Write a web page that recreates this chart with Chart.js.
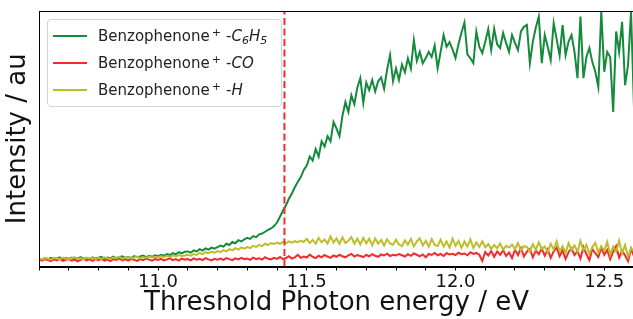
<!DOCTYPE html>
<html>
<head>
<meta charset="utf-8">
<script src="https://cdn.jsdelivr.net/npm/chart.js@4/dist/chart.umd.min.js"></script>
<style>
  body { margin: 0; background: #fff; }
  #wrap { position: relative; width: 633px; height: 319px; overflow: hidden; }
  #legend {
    position: absolute; left: 47px; top: 19px; width: 233px; height: 86px;
    border: 1px solid #d4d4d4; border-radius: 4px; background: rgba(255,255,255,0.85);
    font-family: "DejaVu Sans", sans-serif; font-size: 15px; color: #222;
  }
  .row { position: absolute; left: 0; height: 20px; line-height: 20px; white-space: nowrap; }
  .swatch { position: absolute; left: 5px; top: 9px; width: 34px; height: 2px; }
  .label { position: absolute; left: 50px; top: 0; }
  .label sup { font-size: 11px; vertical-align: 5px; line-height: 0; margin-left: 2px; margin-right: 5px; }
  .label sub { font-size: 11px; vertical-align: -3px; line-height: 0; font-style: italic; }
</style>
</head>
<body>
<div id="wrap">
  <canvas id="spectrum" width="640" height="319"></canvas>
  <div id="legend"></div>
</div>
<script>
// threshold photon energy grid: 10.60 ... 12.60 eV in 0.01 eV steps
var startEnergy = 10.6;
var energyStep = 0.01;

// Benzophenone+ -C6H5 channel
var c6h5 = [
  3.0, 2.6, 3.2, 2.8, 3.4, 2.9, 3.1, 3.6, 2.7, 3.3,
  3.0, 3.5, 2.8, 3.2, 3.7, 3.0, 3.3, 2.9, 3.6, 3.1,
  3.4, 3.8, 3.0, 3.5, 3.2, 3.9, 3.3, 3.6, 4.0, 3.4,
  3.7, 3.3, 4.1, 3.6, 3.9, 4.3, 3.7, 4.2, 3.8, 4.4,
  4.0, 4.6, 4.2, 4.9, 4.5, 5.2, 4.8, 5.6, 5.1, 5.8,
  5.9, 5.4, 6.3, 5.9, 6.8, 6.2, 7.1, 6.6, 7.4, 7.0,
  7.6, 8.2, 7.8, 8.9, 8.4, 9.6, 9.1, 10.3, 9.8, 10.6,
  11.2, 10.8, 11.9, 11.5, 12.6, 12.9, 13.6, 14.3, 14.9, 15.8,
  17.2, 19.5, 21.8, 24.0, 26.5, 28.6, 31.0, 33.2, 35.0, 37.8,
  39.5, 43.0, 41.5, 46.0, 43.0, 49.0, 47.0, 51.0, 49.0, 56.6,
  54.0, 51.0, 59.0, 64.4, 60.5, 67.0, 63.5, 70.0, 73.7, 64.0,
  72.0, 69.0, 73.0, 68.5, 72.5, 74.0, 69.5, 77.0, 82.7, 72.5,
  77.5, 73.0, 79.0, 76.0, 81.5, 77.5, 88.6, 80.5, 84.0, 79.5,
  81.6, 84.0, 82.0, 86.5, 77.6, 84.0, 90.6, 86.0, 87.8, 85.0,
  81.6, 87.0, 91.5, 95.5, 83.0, 81.5, 79.6, 91.9, 86.0, 83.5,
  88.0, 92.9, 84.7, 93.0, 87.0, 85.5, 91.4, 87.5, 84.0, 90.6,
  87.5, 84.7, 92.0, 93.8, 94.5, 79.6, 88.0, 93.5, 97.8, 79.6,
  90.6, 86.0, 80.8, 95.3, 89.0, 82.5, 94.5, 82.7, 88.0, 90.6,
  84.0, 73.7, 97.8, 73.7, 82.0, 85.5, 80.0, 76.2, 70.3, 99.7,
  76.2, 84.0, 82.0, 60.5, 92.0, 84.0, 95.8, 71.0, 78.8, 99.7, 62.0
];

// Benzophenone+ -CO channel
var co = [
  2.7, 2.3, 2.9, 2.5, 2.1, 2.8, 2.4, 3.0, 2.2, 2.6,
  2.9, 2.3, 2.7, 2.0, 2.6, 3.1, 2.4, 2.8, 2.2, 2.9,
  2.5, 3.0, 2.3, 2.7, 2.1, 2.9, 2.6, 3.2, 2.4, 2.8,
  2.3, 3.0, 2.6, 2.2, 2.9, 2.5, 3.1, 2.7, 2.3, 2.9,
  2.6, 3.0, 2.4, 2.8, 3.2, 2.5, 2.9, 2.3, 3.1, 2.7,
  2.9, 2.4, 3.2, 2.7, 3.0, 2.5, 3.3, 2.8, 2.4, 3.0,
  2.7, 3.1, 2.6, 3.3, 2.9, 2.5, 3.2, 2.8, 3.4, 2.9,
  3.1, 2.6, 3.5, 2.9, 3.2, 2.7, 3.6, 3.0, 2.8, 3.4,
  3.0, 3.7, 2.9, 3.3, 4.0, 3.1, 3.6, 4.6, 3.4, 3.9,
  3.5, 4.7, 3.8, 3.3, 4.2, 3.6, 4.5, 3.9, 3.4, 4.3,
  3.8, 4.6, 4.0, 3.6, 4.4, 4.9, 3.9, 4.5, 4.1, 3.7,
  4.5, 4.0, 4.8, 4.2, 3.8, 4.7, 4.3, 5.0, 4.1, 4.6,
  4.3, 4.9, 4.4, 3.9, 4.8, 4.2, 5.1, 4.6, 4.0, 4.7,
  3.6, 4.9, 4.5, 5.3, 4.4, 4.9, 4.1, 5.2, 4.7, 5.0,
  4.5, 5.4, 4.8, 5.1, 4.4, 5.6, 4.9, 5.3, 4.6, 2.2,
  5.7, 4.3, 6.1, 3.8, 5.9, 4.6, 6.4, 4.1, 5.5, 3.3,
  6.6, 4.4, 7.2, 3.9, 5.8, 6.9, 3.6, 6.2, 4.8, 7.0,
  4.2, 6.7, 3.4, 5.9, 7.4, 4.0, 6.3, 2.9, 5.6, 7.1,
  4.5, 6.0, 3.1, 7.6, 4.9, 2.5, 6.8, 5.2, 3.7, 7.3,
  4.6, 6.5, 2.8, 5.8, 8.0, 3.5, 6.2, 4.3, 2.1, 7.0, 4.0
];

// Benzophenone+ -H channel
var hLoss = [
  3.2, 2.8, 3.3, 3.0, 2.7, 3.4, 3.1, 2.9, 3.5, 3.0,
  2.8, 3.3, 3.6, 3.0, 3.2, 2.9, 3.5, 3.1, 3.4, 3.0,
  3.3, 3.0, 3.6, 3.2, 2.9, 3.5, 3.3, 3.8, 3.1, 3.4,
  3.6, 3.2, 3.5, 3.9, 3.3, 3.7, 3.4, 3.9, 3.5, 3.8,
  3.6, 4.0, 3.7, 4.2, 3.8, 4.4, 4.0, 4.5, 4.1, 4.3,
  4.6, 4.2, 4.9, 4.5, 5.3, 4.8, 5.6, 5.2, 5.8, 5.4,
  6.0, 5.6, 6.4, 5.9, 6.8, 6.3, 7.2, 6.6, 7.5, 7.0,
  7.6, 7.2, 8.1, 7.7, 8.5, 8.0, 8.9, 8.4, 9.2, 8.8,
  9.4, 8.9, 9.6, 9.1, 9.8, 9.3, 9.9, 9.5, 10.1, 9.6,
  10.8, 9.2, 10.4, 8.9, 11.2, 9.5, 10.6, 9.0, 11.8, 9.4,
  11.0, 8.8, 11.4, 9.2, 10.1, 11.6, 8.9, 10.9, 8.6, 11.2,
  9.1, 10.9, 8.3, 11.0, 8.9, 10.4, 8.2, 10.7, 9.0, 8.5,
  10.5, 8.6, 8.0, 10.2, 8.5, 10.8, 7.9, 9.8, 11.0, 8.2,
  10.1, 7.8, 10.7, 8.4, 8.0, 10.5, 7.8, 9.8, 7.4, 10.9,
  8.1, 10.0, 7.3, 9.8, 7.8, 10.6, 7.2, 9.4, 7.6, 9.9,
  7.5, 8.8, 6.9, 8.4, 7.2, 9.0, 6.6, 8.1, 7.4, 8.6,
  6.8, 9.2, 6.2, 8.0, 7.6, 5.9, 8.7, 6.5, 9.5, 6.9,
  7.8, 5.6, 8.9, 6.7, 9.8, 6.0, 7.9, 5.3, 9.1, 6.4,
  8.2, 5.8, 10.0, 6.3, 8.5, 4.9, 7.6, 9.3, 5.5, 8.0,
  6.1, 9.6, 4.6, 7.8, 5.7, 10.1, 5.0, 8.4, 3.8, 7.2, 5.9
];

var thresholdEnergy = 11.425;

var xTicks = [10.6, 10.7, 10.8, 10.9, 11.0, 11.1, 11.2, 11.3, 11.4, 11.5, 11.6,
              11.7, 11.8, 11.9, 12.0, 12.1, 12.2, 12.3, 12.4, 12.5, 12.6];
var xTickLabels = ['11.0', '11.5', '12.0', '12.5'];

var colors = ['#168a3c', '#f52a2a', '#bdbd2c'];

function toPoints(values) {
    const pts = [];
    values.forEach((v, i) => {
        pts.push({ x: +(startEnergy + energyStep * i).toFixed(2), y: v });
    });
    return pts;
}

function makeLine(values, color, order) {
    return {
        data: toPoints(values),
        borderColor: color,
        backgroundColor: color,
        borderWidth: 2,
        pointRadius: 0,
        tension: 0,
        order: order
    };
}

var frame = {
    id: 'frame',
    afterDraw(chart) {
        const a = chart.chartArea;
        const ctx = chart.ctx;
        ctx.save();
        ctx.strokeStyle = '#000';
        ctx.lineWidth = 1;
        ctx.strokeRect(Math.round(a.left) + 0.5, Math.round(a.top) + 0.5,
            Math.round(a.right - a.left), Math.round(a.bottom - a.top));
        ctx.restore();
    }
};

var ctx = document.getElementById('spectrum');
var chart = new Chart(ctx, {
    type: 'line',
    data: {
        datasets: [
            makeLine(c6h5, colors[0], 3),
            makeLine(co, colors[1], 2),
            makeLine(hLoss, colors[2], 1),
            {
                data: [{ x: thresholdEnergy, y: 0 }, { x: thresholdEnergy, y: 100 }],
                borderColor: '#f52a2a',
                borderWidth: 2,
                borderDash: [7, 3.5],
                pointRadius: 0,
                order: 0
            }
        ]
    },
    options: {
        responsive: false,
        animation: false,
        devicePixelRatio: 1,
        layout: { padding: { left: 0, right: 6, top: 11, bottom: 0 } },
        plugins: { legend: { display: false }, tooltip: { enabled: false } },
        scales: {
            x: {
                type: 'linear',
                min: 10.6,
                max: 12.6,
                afterBuildTicks: scale => {
                    scale.ticks = xTicks.map(v => ({ value: v }));
                },
                afterFit: scale => { scale.height = 52.5; },
                ticks: {
                    autoSkip: false,
                    maxRotation: 0,
                    padding: 1,
                    color: '#111',
                    font: { family: 'DejaVu Sans', size: 18 },
                    callback: value => {
                        const s = Number(value).toFixed(1);
                        return xTickLabels.includes(s) ? s : '';
                    }
                },
                grid: { drawOnChartArea: false, tickLength: 4, color: '#000', tickWidth: 1 },
                border: { color: '#000', width: 1 },
                title: {
                    display: true,
                    text: 'Threshold Photon energy / eV',
                    color: '#111',
                    font: { family: 'DejaVu Sans', size: 26 },
                    padding: { top: 0, bottom: 0 }
                }
            },
            y: {
                min: 0,
                max: 100,
                afterFit: scale => { scale.width = 39; },
                ticks: { display: false },
                grid: { display: false },
                border: { color: '#000', width: 1 },
                title: {
                    display: true,
                    text: 'Intensity / au',
                    color: '#111',
                    font: { family: 'DejaVu Sans', size: 26 },
                    padding: { top: 3, bottom: 0 }
                }
            }
        }
    },
    plugins: [frame]
});

function makeLegend() {
    const legend = document.getElementById('legend');
    const labels = [
        'Benzophenone<sup>+</sup>-<i>C<sub>6</sub>H<sub>5</sub></i>',
        'Benzophenone<sup>+</sup>-<i>CO</i>',
        'Benzophenone<sup>+</sup>-<i>H</i>'
    ];
    labels.forEach((text, i) => {
        const row = document.createElement('div');
        row.className = 'row';
        row.style.top = (6 + i * 27) + 'px';
        row.innerHTML = '<span class="swatch" style="background:' + colors[i] + '"></span>' +
            '<span class="label">' + text + '</span>';
        legend.appendChild(row);
    });
}
makeLegend();
</script>
</body>
</html>
